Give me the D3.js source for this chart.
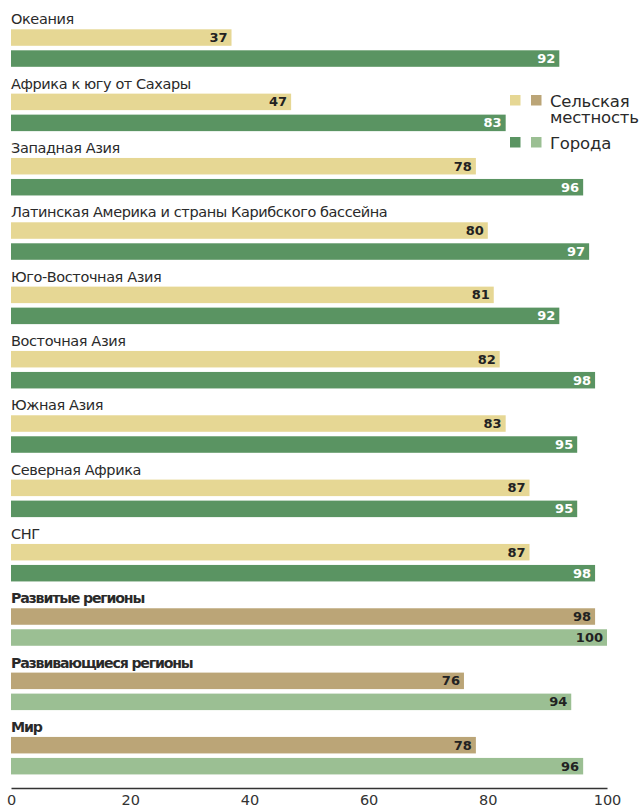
<!DOCTYPE html>
<html><head><meta charset="utf-8">
<script src="https://cdn.jsdelivr.net/npm/d3@7"></script>
<style>body{margin:0;background:#fff}svg{display:block}text{font-family:"DejaVu Sans",Verdana,sans-serif}</style>
</head><body>
<script>
const categories = ["Океания","Африка к югу от Сахары","Западная Азия","Латинская Америка и страны Карибского бассейна","Юго-Восточная Азия","Восточная Азия","Южная Азия","Северная Африка","СНГ","Развитые регионы","Развивающиеся регионы","Мир"];
const rural = [37,47,78,80,81,82,83,87,87,98,76,78];
const urban = [92,83,96,97,92,98,95,95,98,100,94,96];
const aggregate = [false,false,false,false,false,false,false,false,false,true,true,true];
const ticks = [0,20,40,60,80,100];
const legendLabels = [["Сельская","местность"],["Города"]];

const W=641,H=810;
const svg=d3.select("body").append("svg").attr("width",W).attr("height",H);
const x=d3.scaleLinear().domain([0,100]).range([11,607]);
const y=d3.scaleBand().domain(categories).range([9.3,9.3+12*64.33]);
const C={rural:"#e6d794",urban:"#5a9462",aggRural:"#bba577",aggUrban:"#9bbf93"};
const barH=16.5;

const rows=svg.selectAll("g.row").data(categories.map((c,i)=>({c,r:rural[i],u:urban[i],agg:aggregate[i]}))).join("g")
  .attr("transform",d=>`translate(0,${y(d.c)})`);
rows.append("text").attr("x",11).attr("y",15).attr("font-size",d=>d.agg?14.2:14.5)
  .attr("font-weight",d=>d.agg?"bold":"normal").attr("fill","#2a2a2a")
  .attr("letter-spacing",d=>d.agg?"-1.2":"-0.4").text(d=>d.c);
rows.append("rect").attr("x",x(0)).attr("y",20).attr("height",barH)
  .attr("width",d=>x(d.r)-x(0)).attr("fill",d=>d.agg?C.aggRural:C.rural);
rows.append("rect").attr("x",x(0)).attr("y",41).attr("height",barH)
  .attr("width",d=>x(d.u)-x(0)).attr("fill",d=>d.agg?C.aggUrban:C.urban);
rows.append("text").attr("x",d=>x(d.r)-4).attr("y",20+barH/2+4.5).attr("text-anchor","end")
  .attr("font-size",13).attr("font-weight","bold").attr("fill","#222").text(d=>d.r);
rows.append("text").attr("x",d=>x(d.u)-4).attr("y",41+barH/2+4.5).attr("text-anchor","end")
  .attr("font-size",13).attr("font-weight","bold").attr("fill",d=>d.agg?"#222":"#fff").text(d=>d.u);

// axis
const ax=svg.append("g").attr("transform","translate(0,788)")
  .call(d3.axisBottom(x).tickValues(ticks).tickSize(0).tickPadding(7));
ax.select(".domain").attr("stroke","#333").attr("stroke-width",1.3);
ax.selectAll("text").attr("font-size",14.5).attr("fill","#333").attr("font-family","DejaVu Sans, Verdana, sans-serif");

// legend
const lg=svg.append("g");
const items=[{cols:[C.rural,C.aggRural],lab:legendLabels[0],y:95},{cols:[C.urban,C.aggUrban],lab:legendLabels[1],y:137}];
items.forEach(it=>{
  lg.append("rect").attr("x",510).attr("y",it.y).attr("width",10.5).attr("height",10.5).attr("fill",it.cols[0]);
  lg.append("rect").attr("x",531).attr("y",it.y).attr("width",10.5).attr("height",10.5).attr("fill",it.cols[1]);
  it.lab.forEach((t,k)=>lg.append("text").attr("x",550).attr("y",it.y+11.5+k*16.7).attr("font-size",16.5)
    .attr("letter-spacing","-0.2").attr("fill","#2a2a2a").text(t));
});
</script>
</body></html>
